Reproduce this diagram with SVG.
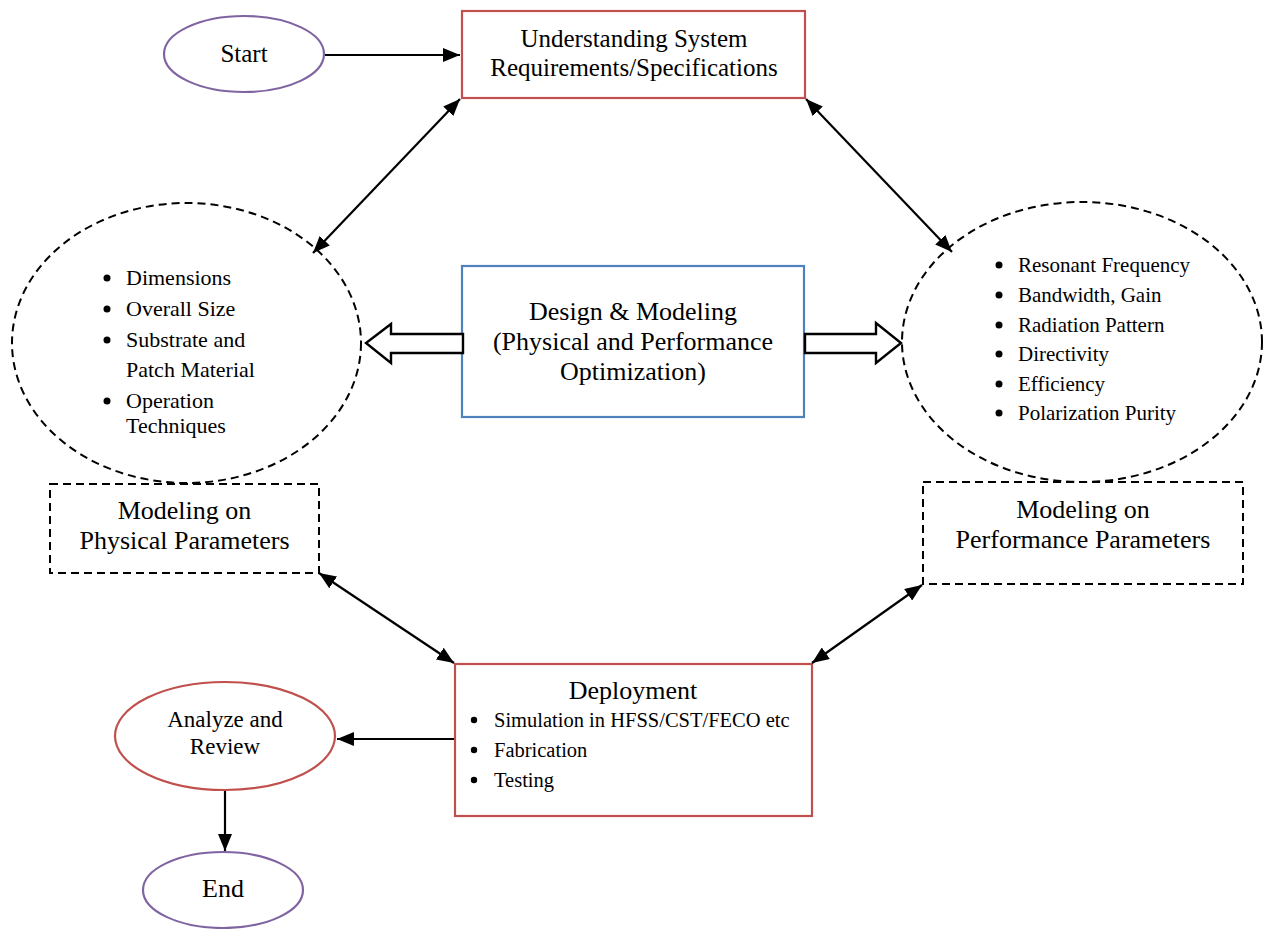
<svg xmlns="http://www.w3.org/2000/svg" width="1263" height="929" viewBox="0 0 1263 929">
<style>
text{font-family:"Liberation Serif","Times New Roman",serif;fill:#000}
.c{text-anchor:middle}
.red{fill:#fff;stroke:#C0504D;stroke-width:2.2}
.blue{fill:#fff;stroke:#4F81BD;stroke-width:2.2}
.pur{fill:#fff;stroke:#8064A2;stroke-width:2.2}
.dash{fill:none;stroke:#000;stroke-width:2;stroke-dasharray:8 5}
.ln{stroke:#000;stroke-width:2.2;fill:none}
.hollow{fill:#fff;stroke:#000;stroke-width:2.4;stroke-linejoin:miter}
</style>
<defs>
<marker id="ah" viewBox="0 0 17 14" refX="17" refY="7" markerWidth="17" markerHeight="14" markerUnits="userSpaceOnUse" orient="auto-start-reverse">
<path d="M0,0 L17,7 L0,14 Z" fill="#000"/>
</marker>
</defs>
<rect width="1263" height="929" fill="#fff"/>

<g id="start">
<ellipse class="pur" cx="244" cy="54" rx="80" ry="38"/>
<text class="c" x="244" y="62" font-size="25">Start</text>
</g>

<g id="understanding">
<rect class="red" x="462" y="11" width="343" height="87"/>
<text class="c" x="634" y="47" font-size="25">Understanding System</text>
<text class="c" x="634" y="76" font-size="25">Requirements/Specifications</text>
</g>

<g id="physical-ellipse">
<ellipse class="dash" cx="186.5" cy="343" rx="174.5" ry="140"/>
<g font-size="22">
<circle cx="107" cy="278" r="3.5"/><text x="126" y="285">Dimensions</text>
<circle cx="107" cy="309" r="3.5"/><text x="126" y="316">Overall Size</text>
<circle cx="107" cy="340" r="3.5"/><text x="126" y="347">Substrate and</text>
<text x="126" y="377">Patch Material</text>
<circle cx="107" cy="401" r="3.5"/><text x="126" y="408">Operation</text>
<text x="126" y="433">Techniques</text>
</g>
</g>

<g id="performance-ellipse">
<ellipse class="dash" cx="1082" cy="342" rx="180" ry="140"/>
<g font-size="21">
<circle cx="999" cy="265" r="3.5"/><text x="1018" y="272">Resonant Frequency</text>
<circle cx="999" cy="295" r="3.5"/><text x="1018" y="302">Bandwidth, Gain</text>
<circle cx="999" cy="325" r="3.5"/><text x="1018" y="332">Radiation Pattern</text>
<circle cx="999" cy="354" r="3.5"/><text x="1018" y="361">Directivity</text>
<circle cx="999" cy="384" r="3.5"/><text x="1018" y="391">Efficiency</text>
<circle cx="999" cy="413" r="3.5"/><text x="1018" y="420">Polarization Purity</text>
</g>
</g>

<g id="design">
<rect class="blue" x="462" y="266" width="342" height="151"/>
<text class="c" x="633" y="320" font-size="26">Design &amp; Modeling</text>
<text class="c" x="633" y="350" font-size="26">(Physical and Performance</text>
<text class="c" x="633" y="380" font-size="26">Optimization)</text>
</g>

<g id="modeling-physical">
<rect class="dash" x="50" y="484" width="269" height="89"/>
<text class="c" x="184.5" y="519" font-size="26">Modeling on</text>
<text class="c" x="184.5" y="549" font-size="26">Physical Parameters</text>
</g>

<g id="modeling-performance">
<rect class="dash" x="923" y="482" width="320" height="102"/>
<text class="c" x="1083" y="518" font-size="26">Modeling on</text>
<text class="c" x="1083" y="548" font-size="26">Performance Parameters</text>
</g>

<g id="deployment">
<rect class="red" x="455" y="664" width="357" height="152"/>
<text class="c" x="633" y="699" font-size="26">Deployment</text>
<g font-size="20.5">
<circle cx="474" cy="720" r="3.2"/><text x="494" y="727">Simulation in HFSS/CST/FECO etc</text>
<circle cx="474" cy="750" r="3.2"/><text x="494" y="757">Fabrication</text>
<circle cx="474" cy="780" r="3.2"/><text x="494" y="787">Testing</text>
</g>
</g>

<g id="analyze">
<ellipse class="red" cx="225" cy="736" rx="110" ry="54"/>
<text class="c" x="225" y="727" font-size="23">Analyze and</text>
<text class="c" x="225" y="754" font-size="23">Review</text>
</g>

<g id="end">
<ellipse class="pur" cx="223" cy="890" rx="80" ry="38"/>
<text class="c" x="223" y="897" font-size="26">End</text>
</g>

<g id="connectors">
<line class="ln" x1="325" y1="55" x2="460" y2="55" marker-end="url(#ah)"/>
<line class="ln" x1="460" y1="99" x2="313" y2="253" marker-start="url(#ah)" marker-end="url(#ah)"/>
<line class="ln" x1="806" y1="99" x2="952" y2="252" marker-start="url(#ah)" marker-end="url(#ah)"/>
<line class="ln" x1="319" y1="573" x2="454" y2="663" marker-start="url(#ah)" marker-end="url(#ah)"/>
<line class="ln" x1="922" y1="585" x2="812" y2="663" marker-start="url(#ah)" marker-end="url(#ah)"/>
<line class="ln" x1="454" y1="739" x2="337" y2="739" marker-end="url(#ah)"/>
<line class="ln" x1="225" y1="791" x2="225" y2="851" marker-end="url(#ah)"/>
<path class="hollow" d="M463,334 L391,334 L391,324 L366,343 L391,363 L391,353 L463,353 Z"/>
<path class="hollow" d="M805,334 L876,334 L876,323 L901,343 L876,363 L876,353 L805,353 Z"/>
</g>
</svg>
